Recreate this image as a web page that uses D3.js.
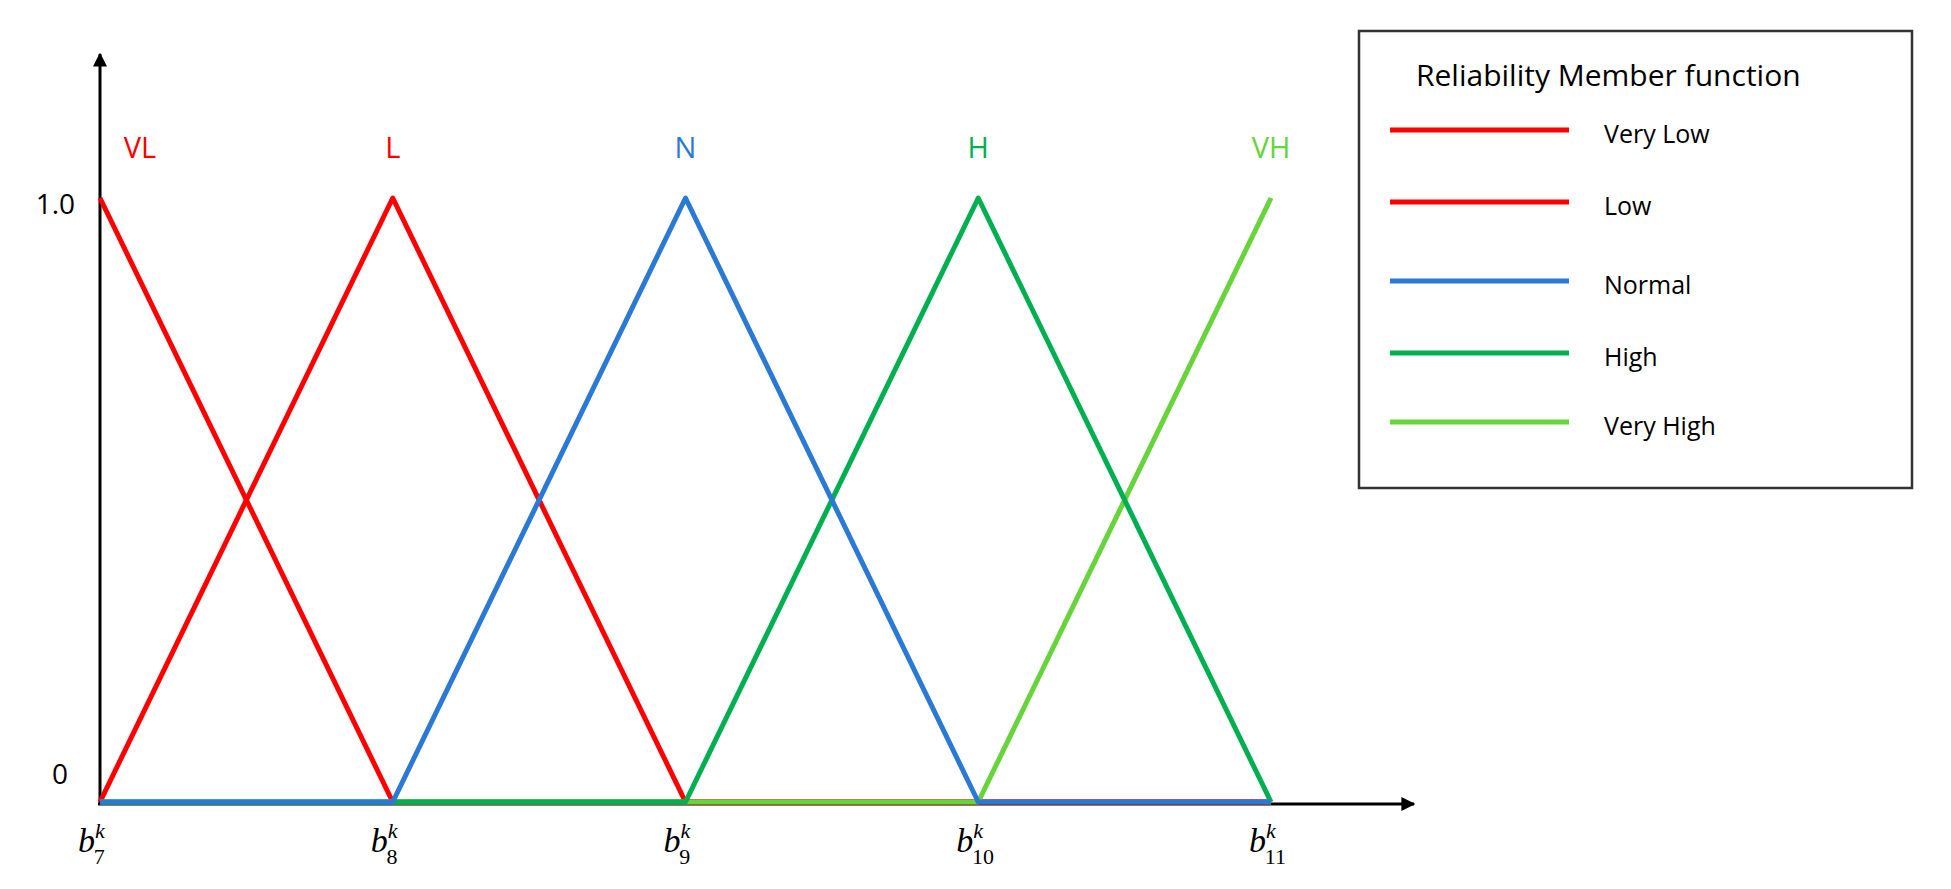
<!DOCTYPE html>
<html><head><meta charset="utf-8">
<script src="https://cdn.jsdelivr.net/npm/d3@7"></script>
<style>body{margin:0;background:#fff}</style>
</head><body><div id="chart"></div>
<script>
const xIdx = [7, 8, 9, 10, 11];
const seriesNames = ["Very Low", "Low", "Normal", "High", "Very High"];
const shortNames = ["VL", "L", "N", "H", "VH"];
const colors = ["#ff0000", "#ff0000", "#2a7ad5", "#00b050", "#66d43a"];
const vVL = [1, 0, 0, 0, 0];
const vL = [0, 1, 0, 0, 0];
const vN = [0, 0, 1, 0, 0];
const vH = [0, 0, 0, 1, 0];
const vVH = [0, 0, 0, 0, 1];
const allVals = [vVL, vL, vN, vH, vVH];

const svg = d3.select("#chart").append("svg").attr("width", 1951).attr("height", 889);
svg.append("defs").append("marker").attr("id", "arrow")
    .attr("viewBox", "0 0 10 10").attr("refX", 9).attr("refY", 5)
    .attr("markerWidth", 14).attr("markerHeight", 14).attr("markerUnits", "userSpaceOnUse")
    .attr("orient", "auto").append("path").attr("d", "M0,0L10,5L0,10z").attr("fill", "black");

const x = d3.scaleLinear().domain([7, 11]).range([100, 1271]);
const y = d3.scaleLinear().domain([0, 1]).range([802, 198]);

// axes
svg.append("line").attr("x1", 100).attr("y1", 804).attr("x2", 100).attr("y2", 54)
    .attr("stroke", "black").attr("stroke-width", 3).attr("marker-end", "url(#arrow)");
svg.append("line").attr("x1", 98).attr("y1", 804).attr("x2", 1414).attr("y2", 804)
    .attr("stroke", "black").attr("stroke-width", 3).attr("marker-end", "url(#arrow)");

// draw order so the baseline shows blue/green like the reference
const order = [0, 1, 4, 3, 2];
const line = d3.line().x((d, i) => x(xIdx[i])).y(d => y(d));
order.forEach(s => {
    svg.append("path").attr("d", line(allVals[s])).attr("fill", "none")
        .attr("stroke", colors[s]).attr("stroke-width", 5).attr("stroke-linejoin", "round");
});
svg.selectAll(".lab").data(shortNames).join("text")
    .attr("x", (d, i) => x(xIdx[i]) + (i === 0 ? 40 : 0)).attr("y", 158)
    .attr("text-anchor", "middle").attr("fill", (d, i) => colors[i])
    .style("font-family", "Open Sans, sans-serif").style("font-size", "29px").text(d => d);

// y labels
svg.append("text").attr("x", 75).attr("y", y(1) + 16).attr("text-anchor", "end")
    .style("font-family", "Open Sans, sans-serif").style("font-size", "28px").text("1.0");
svg.append("text").attr("x", 60).attr("y", y(0) - 18).attr("text-anchor", "middle")
    .style("font-family", "Open Sans, sans-serif").style("font-size", "28px").text("0");

// x tick labels b_n^k
xIdx.forEach(n => {
    const t = svg.append("text").attr("x", x(n) - 22).attr("y", 852)
        .style("font-family", "Liberation Serif, serif").style("font-size", "34px").style("font-style", "italic");
    t.append("tspan").text("b");
    t.append("tspan").attr("dy", -14).style("font-size", "22px").text("k");
    t.append("tspan").attr("dx", -11).attr("dy", 26).style("font-size", "22px").style("font-style", "normal").text(n);
});

// legend
const lg = svg.append("g");
lg.append("rect").attr("x", 1359).attr("y", 31).attr("width", 553).attr("height", 457)
    .attr("fill", "white").attr("stroke", "#333").attr("stroke-width", 2.5);
lg.append("text").attr("x", 1416).attr("y", 86)
    .style("font-family", "Open Sans, sans-serif").style("font-size", "30px").text("Reliability Member function");
const ly = [130, 202, 281, 353, 422];
seriesNames.forEach((n, i) => {
    lg.append("line").attr("x1", 1390).attr("x2", 1569).attr("y1", ly[i]).attr("y2", ly[i])
        .attr("stroke", colors[i]).attr("stroke-width", 5);
    lg.append("text").attr("x", 1604).attr("y", ly[i] + 13)
        .style("font-family", "Open Sans, sans-serif").style("font-size", "25px").text(n);
});
</script></body></html>
